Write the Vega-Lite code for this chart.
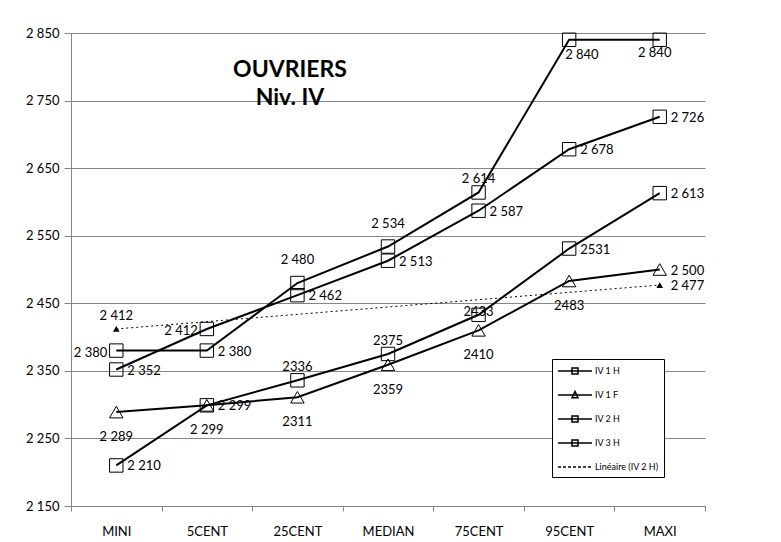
{
  "$schema": "https://vega.github.io/schema/vega-lite/v6.json",
  "width": 634,
  "height": 473,
  "autosize": {"type": "none"},
  "padding": {"left": 71, "top": 33, "right": 76, "bottom": 36},
  "background": "white",
  "config": {"view": {"stroke": null}, "font": "Lato"},
  "title": {
    "text": ["OUVRIERS", "Niv. IV"],
    "anchor": "middle",
    "frame": "group",
    "orient": "top",
    "baseline": "top",
    "offset": 0,
    "dx": -98,
    "dy": 83,
    "fontSize": 23,
    "font": "Lato",
    "fontWeight": "bold",
    "color": "black",
    "lineHeight": 28
  },
  "data": {
    "values": [
      {"series": "IV 1 H", "cat": "MINI", "value": 2380, "label": "2 380"},
      {"series": "IV 1 H", "cat": "5CENT", "value": 2380, "label": "2 380"},
      {"series": "IV 1 H", "cat": "25CENT", "value": 2480, "label": "2 480"},
      {"series": "IV 1 H", "cat": "MEDIAN", "value": 2534, "label": "2 534"},
      {"series": "IV 1 H", "cat": "75CENT", "value": 2614, "label": "2 614"},
      {"series": "IV 1 H", "cat": "95CENT", "value": 2840, "label": "2 840"},
      {"series": "IV 1 H", "cat": "MAXI", "value": 2840, "label": "2 840"},
      {"series": "IV 1 F", "cat": "MINI", "value": 2289, "label": "2 289"},
      {"series": "IV 1 F", "cat": "5CENT", "value": 2299, "label": "2 299"},
      {"series": "IV 1 F", "cat": "25CENT", "value": 2311, "label": "2311"},
      {"series": "IV 1 F", "cat": "MEDIAN", "value": 2359, "label": "2359"},
      {"series": "IV 1 F", "cat": "75CENT", "value": 2410, "label": "2410"},
      {"series": "IV 1 F", "cat": "95CENT", "value": 2483, "label": "2483"},
      {"series": "IV 1 F", "cat": "MAXI", "value": 2500, "label": "2 500"},
      {"series": "IV 2 H", "cat": "MINI", "value": 2352, "label": "2 352"},
      {"series": "IV 2 H", "cat": "5CENT", "value": 2412, "label": "2 412"},
      {"series": "IV 2 H", "cat": "25CENT", "value": 2462, "label": "2 462"},
      {"series": "IV 2 H", "cat": "MEDIAN", "value": 2513, "label": "2 513"},
      {"series": "IV 2 H", "cat": "75CENT", "value": 2587, "label": "2 587"},
      {"series": "IV 2 H", "cat": "95CENT", "value": 2678, "label": "2 678"},
      {"series": "IV 2 H", "cat": "MAXI", "value": 2726, "label": "2 726"},
      {"series": "IV 3 H", "cat": "MINI", "value": 2210, "label": "2 210"},
      {"series": "IV 3 H", "cat": "5CENT", "value": 2299, "label": "2 299"},
      {"series": "IV 3 H", "cat": "25CENT", "value": 2336, "label": "2336"},
      {"series": "IV 3 H", "cat": "MEDIAN", "value": 2375, "label": "2375"},
      {"series": "IV 3 H", "cat": "75CENT", "value": 2433, "label": "2433"},
      {"series": "IV 3 H", "cat": "95CENT", "value": 2531, "label": "2531"},
      {"series": "IV 3 H", "cat": "MAXI", "value": 2613, "label": "2 613"},
      {"series": "Linéaire (IV 2 H)", "cat": "MINI", "value": 2412, "label": "2 412"},
      {"series": "Linéaire (IV 2 H)", "cat": "MAXI", "value": 2477, "label": "2 477"}
    ]
  },
  "encoding": {
    "x": {
      "field": "cat",
      "type": "nominal",
      "scale": {"type": "band", "domain": ["MINI", "5CENT", "25CENT", "MEDIAN", "75CENT", "95CENT", "MAXI"], "paddingInner": 0, "paddingOuter": 0},
      "axis": {"title": null, "labelAngle": 0, "labelFontSize": 13, "labelFont": "Lato", "labelColor": "black", "domainColor": "#868686", "tickColor": "#868686", "tickBand": "extent", "tickSize": 5, "labelPadding": 14, "grid": false}
    },
    "y": {
      "field": "value",
      "type": "quantitative",
      "scale": {"domain": [2150, 2850], "nice": false, "zero": false},
      "axis": {"title": null, "values": [2150, 2250, 2350, 2450, 2550, 2650, 2750, 2850], "labelExpr": "replace(format(datum.value, ',d'), ',', ' ')", "labelFontSize": 13, "labelFont": "Lato", "labelColor": "black", "domainColor": "#868686", "tickColor": "#868686", "tickSize": 7, "labelPadding": 5, "grid": true, "gridColor": "#868686"}
    }
  },
  "layer": [
    {
      "transform": [{"filter": {"not": {"field": "series", "equal": "Linéaire (IV 2 H)"}}}],
      "mark": {"type": "line", "interpolate": "linear", "color": "black", "strokeWidth": 2},
      "encoding": {"detail": {"field": "series", "type": "nominal"}}
    },
    {
      "transform": [{"filter": {"field": "series", "equal": "Linéaire (IV 2 H)"}}],
      "mark": {"type": "line", "color": "black", "strokeWidth": 1, "strokeDash": [2, 3]},
      "encoding": {}
    },
    {
      "transform": [{"filter": {"not": {"field": "series", "equal": "Linéaire (IV 2 H)"}}}],
      "mark": {"type": "point", "filled": false, "color": "black", "strokeWidth": 1, "size": 180, "opacity": 1},
      "encoding": {"shape": {"field": "series", "type": "nominal", "scale": {"domain": ["IV 1 H", "IV 1 F", "IV 2 H", "IV 3 H"], "range": ["square", "triangle-up", "square", "square"]}, "legend": null}}
    },
    {
      "transform": [{"filter": {"field": "series", "equal": "Linéaire (IV 2 H)"}}],
      "mark": {"type": "point", "shape": "triangle-up", "filled": true, "color": "black", "size": 45, "opacity": 1},
      "encoding": {}
    },
    {
      "mark": {"type": "point", "filled": false, "color": "black", "opacity": 0},
      "encoding": {
        "shape": {
          "field": "series",
          "type": "nominal",
          "scale": {
            "domain": ["IV 1 H", "IV 1 F", "IV 2 H", "IV 3 H", "Linéaire (IV 2 H)"],
            "range": [
              "M-1,0H4.67M1.33,-0.5H2.33V0.5H1.33Z",
              "M-1,0H4.67M1.83,-0.6L2.33,0.45H1.33Z",
              "M-1,0H4.67M1.33,-0.5H2.33V0.5H1.33Z",
              "M-1,0H4.67M1.33,-0.5H2.33V0.5H1.33Z",
              "M-1,0H-0.5M-0.17,0H0.33M0.67,0H1.17M1.5,0H2M2.33,0H2.83M3.17,0H3.67M4,0H4.5"
            ]
          },
          "legend": {
            "title": null,
            "orient": "none",
            "legendX": 481,
            "legendY": 326,
            "direction": "vertical",
            "fillColor": "white",
            "strokeColor": "black",
            "padding": 5,
            "symbolSize": 144,
            "symbolStrokeWidth": 1.5,
            "symbolStrokeColor": "black",
            "symbolFillColor": "transparent",
            "symbolOpacity": 1,
            "labelFontSize": 9,
            "labelFont": "Lato",
            "labelColor": "black",
            "labelOffset": 24,
            "labelLimit": 64,
            "rowPadding": 11
          }
        }
      }
    },
    {
      "transform": [{"filter": {"or": [
        {"and": [{"field": "series", "equal": "IV 1 H"}, {"field": "cat", "oneOf": ["5CENT"]}]},
        {"and": [{"field": "series", "equal": "IV 2 H"}, {"field": "cat", "oneOf": ["MINI", "25CENT", "MEDIAN", "75CENT", "95CENT", "MAXI"]}]},
        {"and": [{"field": "series", "equal": "IV 3 H"}, {"field": "cat", "oneOf": ["MINI", "95CENT", "MAXI"]}]},
        {"and": [{"field": "series", "equal": "IV 1 F"}, {"field": "cat", "oneOf": ["5CENT", "MAXI"]}]},
        {"and": [{"field": "series", "equal": "Linéaire (IV 2 H)"}, {"field": "cat", "oneOf": ["MAXI"]}]}
      ]}}],
      "mark": {"type": "text", "font": "Lato", "fontSize": 13, "color": "black", "align": "left", "baseline": "middle", "dx": 11, "dy": 1},
      "encoding": {"text": {"field": "label", "type": "nominal"}}
    },
    {
      "transform": [{"filter": {"or": [
        {"and": [{"field": "series", "equal": "IV 1 H"}, {"field": "cat", "oneOf": ["MINI"]}]},
        {"and": [{"field": "series", "equal": "IV 2 H"}, {"field": "cat", "oneOf": ["5CENT"]}]}
      ]}}],
      "mark": {"type": "text", "font": "Lato", "fontSize": 13, "color": "black", "align": "right", "baseline": "middle", "dx": -9, "dy": 2},
      "encoding": {"text": {"field": "label", "type": "nominal"}}
    },
    {
      "transform": [{"filter": {"or": [
        {"and": [{"field": "series", "equal": "IV 3 H"}, {"field": "cat", "oneOf": ["25CENT", "MEDIAN"]}]},
        {"and": [{"field": "series", "equal": "IV 1 H"}, {"field": "cat", "oneOf": ["75CENT"]}]},
        {"and": [{"field": "series", "equal": "Linéaire (IV 2 H)"}, {"field": "cat", "oneOf": ["MINI"]}]}
      ]}}],
      "mark": {"type": "text", "font": "Lato", "fontSize": 13, "color": "black", "align": "center", "baseline": "middle", "dy": -13},
      "encoding": {"text": {"field": "label", "type": "nominal"}}
    },
    {
      "transform": [{"filter": {"and": [{"field": "series", "equal": "IV 3 H"}, {"field": "cat", "oneOf": ["75CENT"]}]}}],
      "mark": {"type": "text", "font": "Lato", "fontSize": 13, "color": "black", "align": "center", "baseline": "middle", "dy": -3},
      "encoding": {"text": {"field": "label", "type": "nominal"}}
    },
    {
      "transform": [{"filter": {"and": [{"field": "series", "equal": "IV 1 H"}, {"field": "cat", "oneOf": ["25CENT", "MEDIAN"]}]}}],
      "mark": {"type": "text", "font": "Lato", "fontSize": 13, "color": "black", "align": "center", "baseline": "middle", "dy": -23},
      "encoding": {"text": {"field": "label", "type": "nominal"}}
    },
    {
      "transform": [{"filter": {"and": [{"field": "series", "equal": "IV 1 H"}, {"field": "cat", "oneOf": ["95CENT"]}]}}],
      "mark": {"type": "text", "font": "Lato", "fontSize": 13, "color": "black", "align": "left", "baseline": "middle", "dx": -4, "dy": 15},
      "encoding": {"text": {"field": "label", "type": "nominal"}}
    },
    {
      "transform": [{"filter": {"and": [{"field": "series", "equal": "IV 1 H"}, {"field": "cat", "oneOf": ["MAXI"]}]}}],
      "mark": {"type": "text", "font": "Lato", "fontSize": 13, "color": "black", "align": "center", "baseline": "middle", "dx": -5, "dy": 13},
      "encoding": {"text": {"field": "label", "type": "nominal"}}
    },
    {
      "transform": [{"filter": {"or": [
        {"and": [{"field": "series", "equal": "IV 3 H"}, {"field": "cat", "oneOf": ["5CENT"]}]},
        {"and": [{"field": "series", "equal": "IV 1 F"}, {"field": "cat", "oneOf": ["MINI", "25CENT", "MEDIAN", "75CENT", "95CENT"]}]}
      ]}}],
      "mark": {"type": "text", "font": "Lato", "fontSize": 13, "color": "black", "align": "center", "baseline": "middle", "dy": 25},
      "encoding": {"text": {"field": "label", "type": "nominal"}}
    }
  ],
  "resolve": {"scale": {"shape": "independent"}}
}
